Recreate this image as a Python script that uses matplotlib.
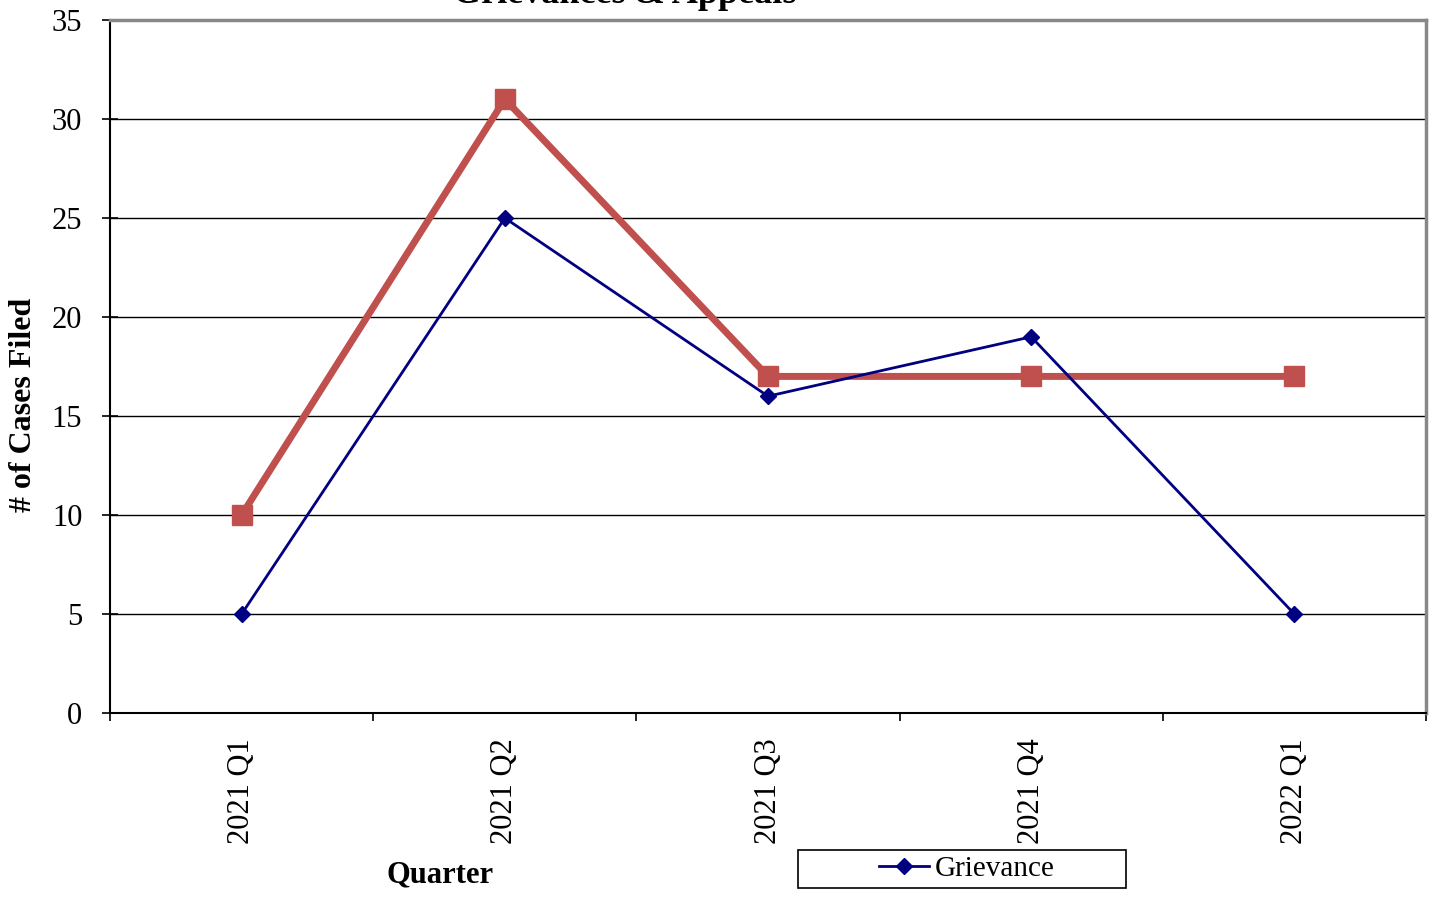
import matplotlib
matplotlib.use("Agg")
import matplotlib.pyplot as plt
from matplotlib.patches import Rectangle

quarters = ["2021 Q1", "2021 Q2", "2021 Q3", "2021 Q4", "2022 Q1"]
grievance = [5, 25, 16, 19, 5]
appeals = [10, 31, 17, 17, 17]

plt.rcParams["font.family"] = ["Liberation Serif", "DejaVu Serif"]

fig = plt.figure(figsize=(14.37, 8.97), dpi=100)
ax = fig.add_axes([0.0766, 0.2051, 0.9157, 0.7726])

xs = [i + 0.5 for i in range(len(quarters))]
ax.plot(xs, appeals, color="#C0504D", lw=5, marker="s", ms=15, zorder=3)
ax.plot(xs, grievance, color="#000080", lw=2, marker="D", ms=8,
        label="Grievance", zorder=4)

ax.set_xlim(0, len(quarters))
ax.set_ylim(0, 35)
ax.set_yticks(range(0, 36, 5))
ax.set_xticks(range(len(quarters) + 1))
ax.set_xticklabels([])
ax.set_xticks(xs, minor=True)
ax.set_xticklabels(quarters, minor=True, rotation=90, fontsize=22)
ax.tick_params(axis="x", which="minor", length=0, pad=18)
ax.tick_params(axis="x", which="major", length=6, direction="out", width=1.2)
ax.tick_params(axis="y", labelsize=22, direction="inout", length=12, width=1.2,
               pad=14)

ax.grid(axis="y", color="black", lw=1)
ax.set_axisbelow(True)
for s in ("top", "right"):
    ax.spines[s].set_color("#888888")
    ax.spines[s].set_linewidth(2.5)
for s in ("left", "bottom"):
    ax.spines[s].set_color("black")
    ax.spines[s].set_linewidth(1.5)

ax.set_ylabel("# of Cases Filed", fontsize=23, fontweight="bold")
ax.yaxis.set_label_coords(-0.0547, 0.444)
fig.text(0.306, 0.016, "Quarter", fontsize=22, fontweight="bold", ha="center")
# title sits partly above the top edge, as in the original export
fig.text(0.435, 0.9967, "Grievances & Appeals", fontsize=26, fontweight="bold",
         ha="center", va="baseline")

# legend box (wider than its content, like the original)
fig.patches.append(Rectangle((798 / 1437, 1 - 888 / 897), 328 / 1437, 38 / 897,
                             transform=fig.transFigure, fill=False,
                             edgecolor="black", lw=1.2))
leg = fig.legend(loc="center", bbox_to_anchor=(967 / 1437, 1 - 869 / 897),
                 fontsize=21, frameon=False, borderpad=0, handlelength=1.7,
                 handletextpad=0.2)

fig.savefig("out.png", dpi=100)
